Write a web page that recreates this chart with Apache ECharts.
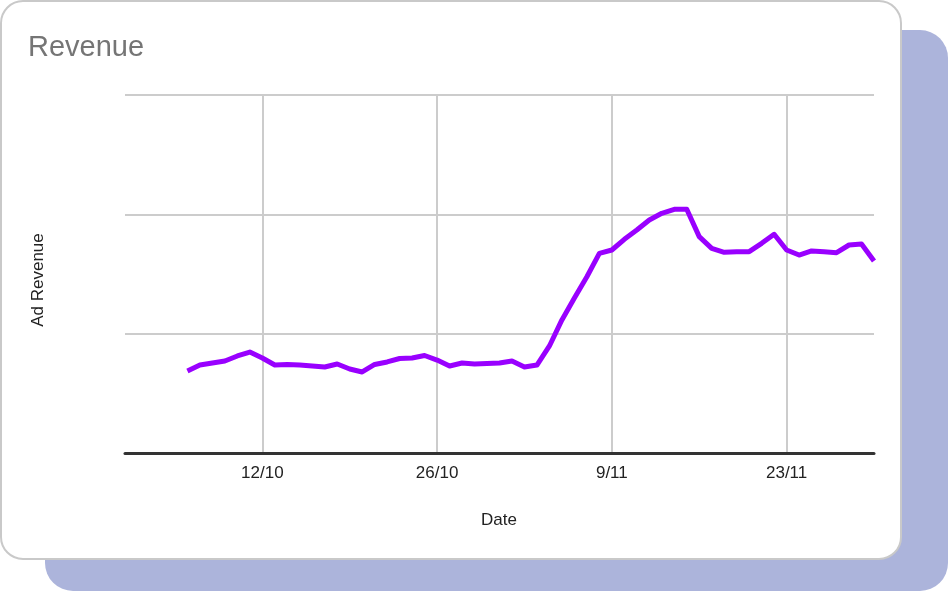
<!DOCTYPE html>
<html>
<head>
<meta charset="utf-8">
<style>
  html, body { margin: 0; padding: 0; background: #ffffff; }
  #chart { width: 948px; height: 591px; }
</style>
<script src="https://cdn.jsdelivr.net/npm/echarts@6/dist/echarts.min.js"></script>
</head>
<body>
<div id="chart"></div>
<script>
// Every day from 1/10 to 30/11
const categories = [
  '1/10','2/10','3/10','4/10','5/10','6/10','7/10','8/10','9/10','10/10',
  '11/10','12/10','13/10','14/10','15/10','16/10','17/10','18/10','19/10','20/10',
  '21/10','22/10','23/10','24/10','25/10','26/10','27/10','28/10','29/10','30/10',
  '31/10','1/11','2/11','3/11','4/11','5/11','6/11','7/11','8/11','9/11',
  '10/11','11/11','12/11','13/11','14/11','15/11','16/11','17/11','18/11','19/11',
  '20/11','21/11','22/11','23/11','24/11','25/11','26/11','27/11','28/11','29/11',
  '30/11'
];
// Ad revenue (thousands), from 6/10 onward
const revenueDates = [
  '6/10','7/10','8/10','9/10','10/10','11/10','12/10','13/10','14/10','15/10',
  '16/10','17/10','18/10','19/10','20/10','21/10','22/10','23/10','24/10','25/10',
  '26/10','27/10','28/10','29/10','30/10','31/10','1/11','2/11','3/11','4/11',
  '5/11','6/11','7/11','8/11','9/11','10/11','11/11','12/11','13/11','14/11',
  '15/11','16/11','17/11','18/11','19/11','20/11','21/11','22/11','23/11','24/11',
  '25/11','26/11','27/11','28/11','29/11','30/11'
];
const revenueValues = [
  687, 737, 754, 771, 813, 846, 796, 737, 742, 737,
  729, 721, 746, 704, 679, 742, 763, 792, 796, 817,
  779, 729, 754, 746, 750, 754, 771, 721, 737, 897,
  1115, 1299, 1477, 1673, 1701, 1791, 1869, 1953, 2009, 2042,
  2042, 1813, 1715, 1682, 1687, 1687, 1757, 1833, 1701, 1659,
  1693, 1687, 1679, 1743, 1751, 1609
];
const tickLabels = ['12/10', '26/10', '9/11', '23/11'];
const yMin = 0, yMax = 3000, yStep = 1000;

const chart = echarts.init(document.getElementById('chart'), null, { renderer: 'canvas' });
const font = "'Liberation Sans', Arial, Helvetica, sans-serif";
const isTick = (idx, val) => tickLabels.includes(val);

chart.setOption({
  animation: false,
  backgroundColor: '#ffffff',
  graphic: [
    { type: 'rect', z: -20, silent: true,
      shape: { x: 45, y: 30, width: 903, height: 561, r: 28 },
      style: { fill: '#acb4db' } },
    { type: 'rect', z: -10, silent: true,
      shape: { x: 1, y: 1, width: 900, height: 558, r: 22 },
      style: { fill: '#ffffff', stroke: '#c9c9c9', lineWidth: 2 } },
    { type: 'text', z: 10, x: 28, y: 48, silent: true,
      style: { text: 'Revenue', font: '29px ' + font, fill: '#757575',
               textAlign: 'left', textVerticalAlign: 'middle' } },
    { type: 'text', z: 10, x: 38, y: 280, rotation: Math.PI / 2, silent: true,
      style: { text: 'Ad Revenue', font: '17px ' + font, fill: '#222222',
               textAlign: 'center', textVerticalAlign: 'middle' } },
    { type: 'text', z: 10, x: 499, y: 520, silent: true,
      style: { text: 'Date', font: '17px ' + font, fill: '#222222',
               textAlign: 'center', textVerticalAlign: 'middle' } }
  ],
  grid: { left: 125, right: 74, top: 95, bottom: 138, containLabel: false },
  xAxis: {
    type: 'category',
    data: categories,
    boundaryGap: false,
    axisLine: { show: true, lineStyle: { color: '#333333', width: 3 } },
    axisTick: { show: false },
    axisLabel: { interval: isTick, color: '#222222', fontSize: 17, fontFamily: font, margin: 12 },
    splitLine: { show: true, interval: isTick, lineStyle: { color: '#cccccc', width: 2 } }
  },
  yAxis: {
    type: 'value',
    min: yMin, max: yMax, interval: yStep,
    axisLine: { show: false },
    axisTick: { show: false },
    axisLabel: { show: false },
    splitLine: { show: true, lineStyle: { color: '#cccccc', width: 2 } }
  },
  series: [{
    type: 'line',
    data: revenueDates.map((d, i) => [d, revenueValues[i]]),
    showSymbol: false,
    smooth: false,
    lineStyle: { color: '#9900ff', width: 5, join: 'round' },
    itemStyle: { color: '#9900ff' },
    z: 5
  }]
});
</script>
</body>
</html>
